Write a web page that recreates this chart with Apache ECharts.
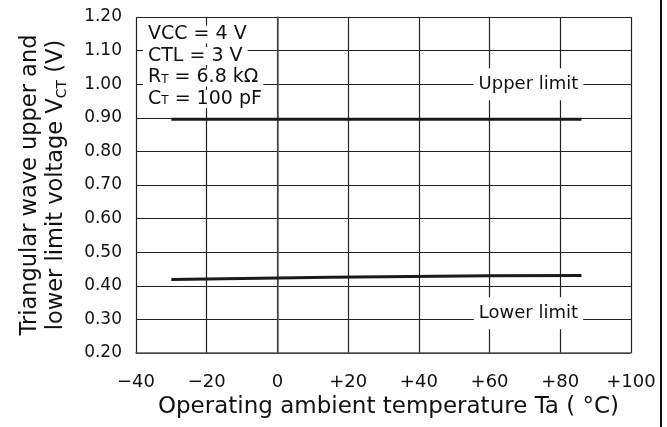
<!DOCTYPE html>
<html>
<head>
<meta charset="utf-8">
<script src="https://cdn.jsdelivr.net/npm/echarts@6/dist/echarts.min.js"></script>
<style>
  html, body { margin: 0; padding: 0; background: #fff; }
  #chart { width: 667px; height: 427px; }
</style>
</head>
<body>
<div id="chart"></div>
<script>
// Temperature axis (°C) and voltage axis (V) ranges
const tempRange = [-40, 100];
const tempStep = 20;
const voltRange = [0.2, 1.2];
const voltStep = 0.1;

// Upper limit of the triangular wave vs. temperature
const upperTemp = [-30, 86];
const upperVolt = [0.896, 0.896];

// Lower limit of the triangular wave vs. temperature
const lowerTemp = [-30, 0, 30, 60, 86];
const lowerVolt = [0.419, 0.423, 0.427, 0.430, 0.431];

// Curve captions and where they sit (temperature, voltage)
const upperCaption = 'Upper limit';
const upperCaptionAt = [71, 1.0];
const lowerCaption = 'Lower limit';
const lowerCaptionAt = [71, 0.318];

// Test conditions
const conditions = [
  '{n|VCC = 4 V}',
  '{n|CTL = 3 V}',
  '{n|R}{s|T}{n| = 6.8 kΩ}',
  '{n|C}{s|T}{n| = 100 pF}'
];

const FONT = 'DejaVu Sans';
const INK = '#111';

function pair(xs, ys) { return xs.map((x, i) => [x, ys[i]]); }

function tempLabel(v) {
  if (v < 0) return '\u2212' + Math.abs(v);
  if (v > 0) return '+' + v;
  return '0';
}

function caption(text, at) {
  return {
    symbol: 'rect',
    symbolSize: 1,
    silent: true,
    data: [{ coord: at }],
    itemStyle: { color: 'rgba(0,0,0,0)' },
    label: {
      show: true,
      position: 'inside',
      formatter: text,
      color: INK,
      fontFamily: FONT,
      fontSize: 18,
      backgroundColor: '#fff',
      padding: [7, 5]
    }
  };
}

const chart = echarts.init(document.getElementById('chart'), null, { renderer: 'canvas' });

const lineStyle = { color: '#1a1a1a', width: 3 };

const conditionText = conditions.map((text, i) => ({
  type: 'text',
  left: 143,
  top: 25 + i * 21.5,
  z: 100,
  silent: true,
  style: {
    text: text,
    fill: INK,
    backgroundColor: '#fff',
    padding: [1, 5],
    rich: {
      n: { fontFamily: FONT, fontSize: 19, lineHeight: 16, fill: INK },
      s: { fontFamily: FONT, fontSize: 12, lineHeight: 10, fill: INK, verticalAlign: 'bottom' }
    }
  }
}));

// page frame rule along the right edge
const frameRule = {
  type: 'line',
  silent: true,
  z: 100,
  shape: { x1: 661, y1: 0, x2: 661, y2: 427 },
  style: { stroke: '#111', lineWidth: 2 }
};

chart.setOption({
  animation: false,
  backgroundColor: '#fff',
  grid: { left: 136, right: 36, top: 17, bottom: 74, show: false },
  xAxis: {
    type: 'value',
    min: tempRange[0],
    max: tempRange[1],
    interval: tempStep,
    axisLine: { show: true, lineStyle: { color: '#555', width: 1.5 } },
    axisTick: { show: false },
    splitLine: { show: true, lineStyle: { color: '#222', width: 1.2 } },
    axisLabel: { formatter: tempLabel, color: INK, fontFamily: FONT, fontSize: 18, margin: 20 },
    name: 'Operating ambient temperature Ta ( °C)',
    nameLocation: 'middle',
    nameGap: 43,
    nameTextStyle: { color: INK, fontFamily: FONT, fontSize: 23, padding: [0, 0, 0, 10] }
  },
  yAxis: {
    type: 'value',
    min: voltRange[0],
    max: voltRange[1],
    interval: voltStep,
    axisLine: { show: true, lineStyle: { color: '#555', width: 1.5 } },
    axisTick: { show: false },
    splitLine: { show: true, lineStyle: { color: '#222', width: 1.2 } },
    axisLabel: { formatter: v => v.toFixed(2), color: INK, fontFamily: FONT, fontSize: 17, margin: 14 },
    name: '{a|Triangular wave upper and}\n{a|lower limit voltage V}{b|CT}{a| (V)}',
    nameLocation: 'middle',
    nameRotate: 90,
    nameGap: 67,
    nameTextStyle: {
      color: INK,
      align: 'center',
      rich: {
        a: { fontFamily: FONT, fontSize: 22.5, lineHeight: 26, color: INK },
        b: { fontFamily: FONT, fontSize: 14, lineHeight: 14, color: INK, verticalAlign: 'bottom' }
      }
    }
  },
  series: [
    {
      name: 'Upper limit',
      type: 'line',
      data: pair(upperTemp, upperVolt),
      symbol: 'none',
      lineStyle: lineStyle,
      silent: true,
      markPoint: caption(upperCaption, upperCaptionAt)
    },
    {
      name: 'Lower limit',
      type: 'line',
      data: pair(lowerTemp, lowerVolt),
      symbol: 'none',
      smooth: true,
      lineStyle: lineStyle,
      silent: true,
      markPoint: caption(lowerCaption, lowerCaptionAt)
    }
  ],
  graphic: conditionText.concat([frameRule])
});
</script>
</body>
</html>
